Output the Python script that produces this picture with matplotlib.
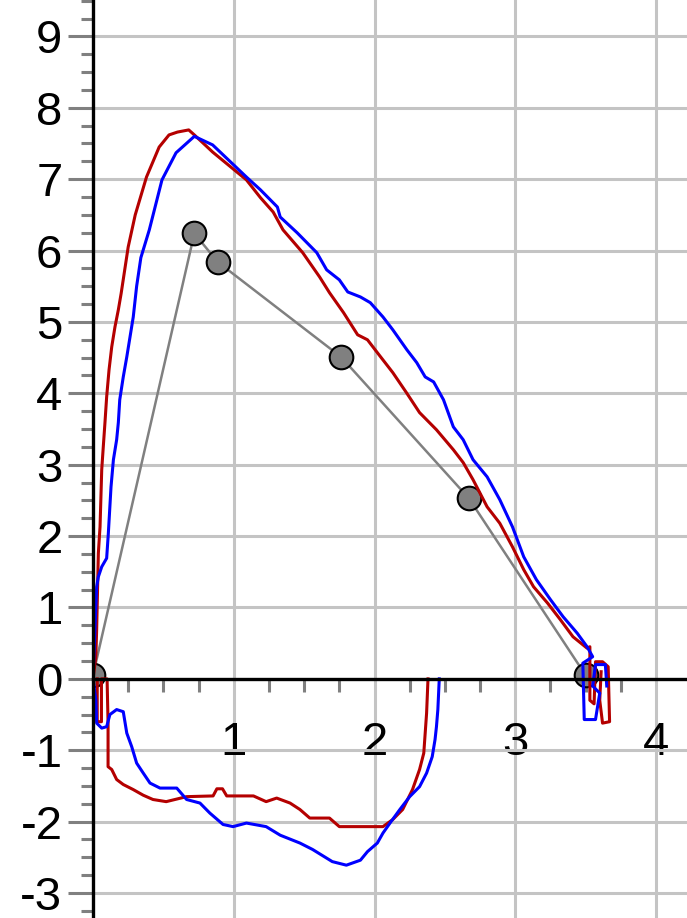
import numpy as np
import matplotlib
matplotlib.use('Agg')
import matplotlib.pyplot as plt
from matplotlib.ticker import MultipleLocator

plt.rcParams['font.family'] = ['Liberation Sans', 'DejaVu Sans']
plt.rcParams['axes.unicode_minus'] = False

# gray reference line with markers
gray_x = [0.0, 0.72, 0.886, 1.762, 2.67, 3.50]
gray_y = [0.05, 6.24, 5.84, 4.51, 2.53, 0.05]

# red trace, upper branch
red_up_x = [0.0, 0.02, 0.026, 0.038, 0.05, 0.062, 0.073, 0.085, 0.097, 0.114, 0.133, 0.156, 0.18,
            0.2, 0.25, 0.3, 0.38, 0.47, 0.54, 0.6, 0.68, 0.72, 0.85, 1.09, 1.19, 1.28, 1.35, 1.49,
            1.61, 1.68, 1.78, 1.88, 1.95, 2.02, 2.13, 2.23, 2.32, 2.44, 2.56, 2.63, 2.70, 2.80, 2.89,
            2.98, 3.06, 3.13, 3.23, 3.32, 3.41, 3.51, 3.53, 3.53, 3.56, 3.57, 3.62, 3.66, 3.67, 3.62,
            3.60, 3.61]
red_up_y = [0.0, 0.3, 0.69, 1.76, 2.13, 2.93, 3.25, 3.59, 3.95, 4.33, 4.65, 4.93, 5.17,
            5.4, 6.05, 6.5, 7.03, 7.45, 7.62, 7.66, 7.69, 7.62, 7.38, 6.99, 6.74, 6.54, 6.29, 5.97,
            5.63, 5.41, 5.13, 4.82, 4.75, 4.57, 4.29, 4.0, 3.73, 3.49, 3.21, 3.03, 2.79, 2.41, 2.18,
            1.85, 1.53, 1.29, 1.06, 0.83, 0.59, 0.43, 0.45, -0.3, -0.35, 0.24, 0.24, 0.17, -0.6, -0.62,
            -0.3, 0.1]

# red trace, lower branch
red_low_x = [0.03, 0.03, 0.06, 0.06, 0.1, 0.107, 0.107, 0.133, 0.168, 0.215, 0.285, 0.357, 0.426,
             0.52, 0.665, 0.853, 0.88, 0.92, 0.95, 1.14, 1.23, 1.305, 1.40, 1.47, 1.54, 1.68, 1.75,
             2.06, 2.13, 2.2, 2.27, 2.32, 2.35, 2.36, 2.37, 2.38]
red_low_y = [0.0, -0.6, -0.6, 0.0, 0.0, -0.62, -1.23, -1.27, -1.41, -1.48, -1.55, -1.63, -1.69,
             -1.72, -1.65, -1.64, -1.54, -1.54, -1.64, -1.64, -1.72, -1.67, -1.74, -1.83, -1.95, -1.95, -2.07,
             -2.07, -1.97, -1.83, -1.55, -1.27, -1.04, -0.76, -0.48, 0.0]

# blue trace, upper branch
blue_up_x = [0.0, 0.01, 0.02, 0.026, 0.038, 0.062, 0.097, 0.109, 0.128, 0.145, 0.168, 0.18, 0.19,
             0.215, 0.24, 0.263, 0.286, 0.31, 0.34, 0.40, 0.49, 0.59, 0.72, 0.85, 1.09, 1.19, 1.31,
             1.33, 1.45, 1.59, 1.66, 1.75, 1.81, 1.90, 1.97, 2.06, 2.13, 2.23, 2.30, 2.36, 2.42, 2.49,
             2.56, 2.63, 2.70, 2.80, 2.89, 2.98, 3.06, 3.15, 3.25, 3.34, 3.44, 3.51, 3.55, 3.48, 3.49,
             3.57, 3.60, 3.55, 3.57, 3.64, 3.65]
blue_up_y = [0.0, 0.5, 1.0, 1.29, 1.43, 1.57, 1.69, 2.04, 2.69, 3.07, 3.35, 3.59, 3.91,
             4.23, 4.51, 4.79, 5.07, 5.5, 5.9, 6.29, 6.99, 7.37, 7.60, 7.48, 7.03, 6.85, 6.61,
             6.47, 6.25, 5.97, 5.73, 5.59, 5.42, 5.35, 5.27, 5.07, 4.89, 4.61, 4.43, 4.23, 4.16, 3.91,
             3.53, 3.35, 3.07, 2.83, 2.51, 2.13, 1.71, 1.39, 1.11, 0.87, 0.64, 0.45, 0.31, 0.22, -0.57,
             -0.57, -0.2, -0.1, 0.2, 0.2, -0.1]

# blue trace, lower branch
blue_low_x = [0.0, 0.02, 0.026, 0.062, 0.097, 0.12, 0.168, 0.215, 0.24, 0.275, 0.31, 0.357, 0.405,
              0.476, 0.595, 0.665, 0.76, 0.83, 0.924, 0.995, 1.09, 1.23, 1.33, 1.47, 1.56, 1.70, 1.80,
              1.90, 1.95, 2.02, 2.06, 2.11, 2.18, 2.25, 2.32, 2.37, 2.41, 2.43, 2.44, 2.45, 2.46]
blue_low_y = [0.0, -0.29, -0.62, -0.69, -0.67, -0.5, -0.43, -0.46, -0.76, -0.95, -1.18, -1.32, -1.46,
              -1.53, -1.53, -1.69, -1.74, -1.88, -2.04, -2.07, -2.02, -2.07, -2.19, -2.30, -2.39, -2.56, -2.61,
              -2.54, -2.42, -2.30, -2.16, -2.02, -1.83, -1.65, -1.51, -1.32, -1.09, -0.85, -0.67, -0.43, 0.0]

x_ticks = [1, 2, 3, 4]
y_ticks = list(range(-3, 10))

fig = plt.figure(figsize=(6.87, 9.18), dpi=100)
ax = fig.add_axes([93 / 687, 0, 594 / 687, 1])

ax.plot(gray_x, gray_y, color='#808080', linewidth=1.8, marker='o', markersize=17,
        markerfacecolor='#808080', markeredgecolor='black', markeredgewidth=1.5, zorder=2)
ax.plot(red_up_x, red_up_y, color='#b40000', linewidth=2.2, zorder=3)
ax.plot(red_low_x, red_low_y, color='#b40000', linewidth=2.2, zorder=3)
ax.plot(blue_up_x, blue_up_y, color='#0000ff', linewidth=2.2, zorder=4)
ax.plot(blue_low_x, blue_low_y, color='#0000ff', linewidth=2.2, zorder=4)

ax.set_xlim(0, 4.22)
ax.set_ylim(-3.35, 9.51)

ax.spines['top'].set_visible(False)
ax.spines['right'].set_visible(False)
ax.spines['bottom'].set_position(('data', 0))
for s in ['left', 'bottom']:
	ax.spines[s].set_linewidth(2.4)
	ax.spines[s].set_color('black')
	ax.spines[s].set_zorder(5)

ax.set_xticks(x_ticks)
ax.set_yticks(y_ticks)
ax.xaxis.set_minor_locator(MultipleLocator(0.25))
ax.yaxis.set_minor_locator(MultipleLocator(0.25))

ax.grid(True, which='major', color='#c4c4c4', linewidth=2.2, zorder=0)
ax.set_axisbelow(True)

ax.tick_params(axis='y', which='major', direction='out', length=18, width=2.2,
               color='#808080', labelsize=34, pad=4)
ax.tick_params(axis='y', which='minor', direction='out', length=8.5, width=2.2, color='#808080')
ax.tick_params(axis='x', which='major', direction='out', length=0, labelsize=34, pad=30)
ax.tick_params(axis='x', which='minor', direction='out', length=9, width=2.2, color='#808080')

fig.savefig('out.png', dpi=100)
